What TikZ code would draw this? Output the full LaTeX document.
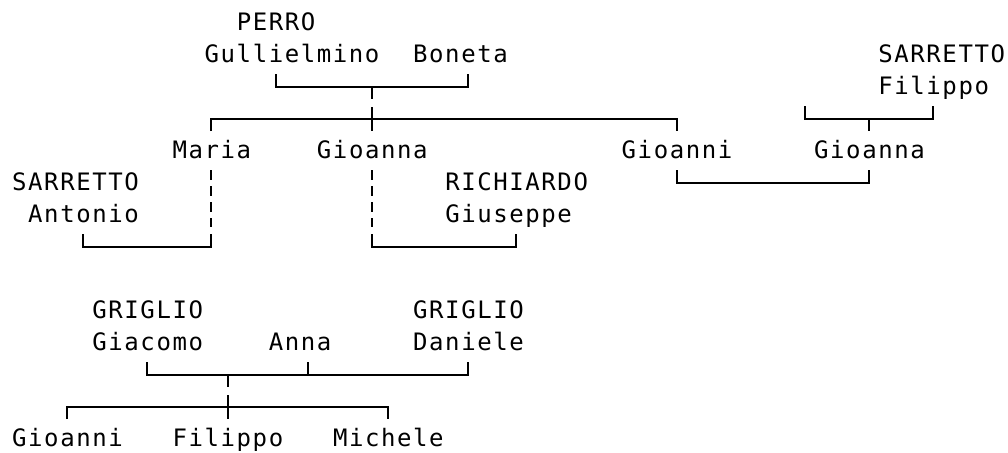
\documentclass[tikz,border=0pt]{standalone}
\usepackage{fontspec}
\newfontfamily\treefont[LetterSpace=6.6]{DejaVu Sans Mono}
\tikzset{
  person/.style={font=\treefont\fontsize{12pt}{14pt}\selectfont,anchor=base west,inner sep=0pt},
  bar/.style={line width=1pt},
  gapbar/.style={line width=1pt,dash pattern=on 5pt off 3pt},
}
\begin{document}
\begin{tikzpicture}[x=0.5pt,y=-0.5pt]
  \def\cw{16.04} % column width
  \def\rh{32}    % row height
  \def\tx{11.8}  \def\ty{30} % text origin (base line of row 0)
  \def\xo{19}    \def\yo{23} % bar origin (centre of column 0)
  \useasboundingbox (0,0) rectangle (1008,452);
  % names, by column and row
  \foreach \c/\r/\n/\t in {14/0/perro/PERRO, 12/1/gullielmino/Gullielmino,
      25/1/boneta/Boneta, 54/1/sarrettoF/SARRETTO, 54/2/filippoS/Filippo,
      10/4/maria/Maria, 19/4/gioanna/Gioanna, 38/4/gioanni/Gioanni,
      50/4/gioannaS/Gioanna, 0/5/sarrettoA/SARRETTO, 27/5/richiardo/RICHIARDO,
      1/6/antonio/Antonio, 27/6/giuseppe/Giuseppe,
      5/9/griglioG/GRIGLIO, 25/9/griglioD/GRIGLIO,
      5/10/giacomo/Giacomo, 16/10/anna/Anna, 25/10/daniele/Daniele,
      0/13/gioanniG/Gioanni, 10/13/filippoG/Filippo, 20/13/michele/Michele}{
    \node[person] (\n) at ({\tx+\cw*\c},{\ty+\rh*\r}) {\t};
  }
  % Perro -- Boneta
  \coordinate (gullB) at ({\xo+\cw*16},{\yo+\rh*2});
  \coordinate (boneB) at ({\xo+\cw*28},{\yo+\rh*2});
  \coordinate (perroK) at ({\xo+\cw*22},{\yo+\rh*2});
  \draw[bar] (gullB) ++(0,-13) |- (boneB) -- ++(0,-13);
  \draw[bar] (perroK) -- ++(0,12);
  % their children
  \coordinate (mariaK) at ({\xo+\cw*12},{\yo+\rh*3});
  \coordinate (gioannaK) at ({\xo+\cw*22},{\yo+\rh*3});
  \coordinate (gioanniK) at ({\xo+\cw*41},{\yo+\rh*3});
  \draw[bar] (mariaK) ++(0,12) |- (gioanniK) -- ++(0,12);
  \draw[bar] (gioannaK) ++(0,-12) -- ++(0,24);
  % Sarretto Filippo -- Gioanna
  \coordinate (filB) at ({\xo+\cw*49},{\yo+\rh*3});
  \coordinate (filE) at ({\xo+\cw*57},{\yo+\rh*3});
  \coordinate (filK) at ({\xo+\cw*53},{\yo+\rh*3});
  \draw[bar] (filB) ++(0,-13) |- (filE) -- ++(0,-13);
  \draw[bar] (filK) -- ++(0,12);
  % Gioanni x Gioanna
  \coordinate (gioanniM) at ({\xo+\cw*41},{\yo+\rh*5});
  \coordinate (gioannaM) at ({\xo+\cw*53},{\yo+\rh*5});
  \draw[bar] (gioanniM) ++(0,-13) |- (gioannaM) -- ++(0,-13);
  % Maria x Sarretto Antonio
  \coordinate (mariaM) at ({\xo+\cw*12},{\yo+\rh*7});
  \coordinate (antonioM) at ({\xo+\cw*4},{\yo+\rh*7});
  \draw[gapbar] (mariaM) ++(0,-77) -- ++(0,57);
  \draw[bar] (mariaM) ++(0,-13) |- (antonioM) -- ++(0,-13);
  % Gioanna x Richiardo Giuseppe
  \coordinate (gioannaR) at ({\xo+\cw*22},{\yo+\rh*7});
  \coordinate (giuseppeR) at ({\xo+\cw*31},{\yo+\rh*7});
  \draw[gapbar] (gioannaR) ++(0,-77) -- ++(0,57);
  \draw[bar] (gioannaR) ++(0,-13) |- (giuseppeR) -- ++(0,-13);
  % Griglio Giacomo -- Anna -- Griglio Daniele
  \coordinate (giacomoB) at ({\xo+\cw*8},{\yo+\rh*11});
  \coordinate (danieleB) at ({\xo+\cw*28},{\yo+\rh*11});
  \coordinate (annaB) at ({\xo+\cw*18},{\yo+\rh*11});
  \coordinate (griglioK) at ({\xo+\cw*13},{\yo+\rh*11});
  \draw[bar] (giacomoB) ++(0,-13) |- (danieleB) -- ++(0,-13);
  \draw[bar] (annaB) -- ++(0,-13);
  \draw[bar] (griglioK) -- ++(0,12);
  % their children
  \coordinate (gioanniC) at ({\xo+\cw*3},{\yo+\rh*12});
  \coordinate (filippoC) at ({\xo+\cw*13},{\yo+\rh*12});
  \coordinate (micheleC) at ({\xo+\cw*23},{\yo+\rh*12});
  \draw[bar] (gioanniC) ++(0,12) |- (micheleC) -- ++(0,12);
  \draw[bar] (filippoC) ++(0,-12) -- ++(0,24);
\end{tikzpicture}
\end{document}
